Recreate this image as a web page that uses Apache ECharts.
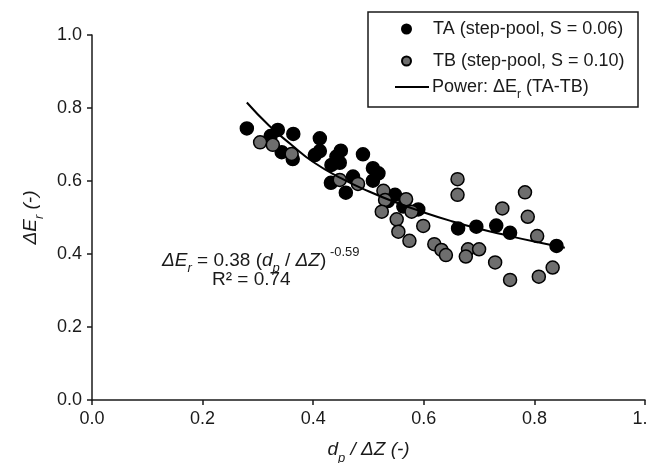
<!DOCTYPE html>
<html>
<head>
<meta charset="utf-8">
<script src="https://cdn.jsdelivr.net/npm/echarts@6/dist/echarts.min.js"></script>
<style>html,body{margin:0;padding:0;background:#fff}#c{width:647px;height:463px}</style>
</head>
<body>
<div id="c"></div>
<script>
// TA (step-pool, S = 0.06): [dp/ΔZ, ΔEr]
var taPoints = [
  [0.280,0.744],[0.336,0.740],[0.323,0.723],[0.364,0.729],[0.343,0.679],[0.363,0.660],
  [0.412,0.717],[0.403,0.671],[0.412,0.682],[0.450,0.683],[0.442,0.667],[0.490,0.673],
  [0.433,0.644],[0.448,0.650],[0.432,0.595],[0.459,0.568],[0.472,0.612],[0.508,0.635],
  [0.518,0.621],[0.508,0.601],[0.539,0.557],[0.548,0.562],[0.535,0.545],[0.563,0.530],
  [0.590,0.522],[0.662,0.470],[0.695,0.475],[0.731,0.478],[0.756,0.458],[0.840,0.422]
];
// TB (step-pool, S = 0.10)
var tbPoints = [
  [0.304,0.706],[0.327,0.699],[0.361,0.674],[0.448,0.603],[0.481,0.592],[0.527,0.573],
  [0.530,0.548],[0.568,0.550],[0.524,0.516],[0.578,0.516],[0.551,0.495],[0.554,0.461],
  [0.574,0.436],[0.599,0.477],[0.619,0.427],[0.632,0.411],[0.640,0.397],[0.661,0.605],
  [0.661,0.562],[0.680,0.413],[0.676,0.393],[0.700,0.413],[0.783,0.569],[0.742,0.525],
  [0.788,0.502],[0.805,0.449],[0.729,0.377],[0.756,0.329],[0.808,0.338],[0.833,0.363]
];
// Power trend line points
var powerLine = [
  [0.280,0.815],[0.320,0.752],[0.360,0.700],[0.400,0.652],[0.450,0.608],[0.500,0.572],
  [0.550,0.541],[0.600,0.514],[0.650,0.490],[0.700,0.469],[0.750,0.451],[0.800,0.434],[0.855,0.417]
];
var xTicks = [0, 0.2, 0.4, 0.6, 0.8, 1.0];
var yTicks = [0, 0.2, 0.4, 0.6, 0.8, 1.0];

var FONT = 'Liberation Sans, Arial, sans-serif';
var chart = echarts.init(document.getElementById('c'), null, {renderer: 'canvas'});
var axisCol = '#1a1a1a';
var txtCol = '#1a1a1a';
var option = {
  animation: false,
  backgroundColor: '#fff',
  textStyle: {fontFamily: FONT},
  grid: {left: 92, right: 2, top: 35, bottom: 63, containLabel: false, outerBoundsMode: 'none'},
  xAxis: {
    type: 'value', min: xTicks[0], max: xTicks[xTicks.length-1], interval: 0.2,
    splitLine: {show: false},
    axisLine: {lineStyle: {color: axisCol, width: 1.5}},
    axisTick: {show: true, inside: false, length: 5, lineStyle: {color: axisCol, width: 1.5}},
    axisLabel: {color: txtCol, fontSize: 18, fontFamily: FONT, margin: 10,
      formatter: function(v){ return v.toFixed(1); }},
    name: '{i|d}{s|p}{i| / ΔZ (-)}', nameLocation: 'middle', nameGap: 40,
    nameTextStyle: {color: txtCol, rich: {
      i: {fontSize: 19, fontStyle: 'italic', fontFamily: FONT, color: txtCol},
      s: {fontSize: 13, fontStyle: 'italic', fontFamily: FONT, color: txtCol, verticalAlign: 'bottom', padding: [0,0,-6,0]}
    }}
  },
  yAxis: {
    type: 'value', min: yTicks[0], max: yTicks[yTicks.length-1], interval: 0.2,
    splitLine: {show: false},
    axisLine: {show: true, lineStyle: {color: axisCol, width: 1.5}},
    axisTick: {show: true, inside: false, length: 5, lineStyle: {color: axisCol, width: 1.5}},
    axisLabel: {color: txtCol, fontSize: 18, fontFamily: FONT, margin: 10,
      formatter: function(v){ return v.toFixed(1); }},
    name: '{i|ΔE}{s|r}{i| (-)}', nameLocation: 'middle', nameGap: 46,
    nameTextStyle: {color: txtCol, rich: {
      i: {fontSize: 19, fontStyle: 'italic', fontFamily: FONT, color: txtCol},
      s: {fontSize: 13, fontStyle: 'italic', fontFamily: FONT, color: txtCol, verticalAlign: 'bottom', padding: [0,0,-6,0]}
    }}
  },
  legend: [
    {data: ['TA (step-pool, S = 0.06)'], left: 401, top: 20, padding: 0, itemWidth: 9, itemHeight: 9, icon: 'circle',
      textStyle: {fontSize: 18, color: txtCol, fontFamily: FONT, padding: [0,0,0,17]}},
    {data: ['TB (step-pool, S = 0.10)'], left: 401, top: 52, padding: 0, itemWidth: 9, itemHeight: 9, icon: 'circle',
      textStyle: {fontSize: 18, color: txtCol, fontFamily: FONT, padding: [0,0,0,17]}},
    {data: [{name: 'Power: ΔEr (TA-TB)', icon: 'rect'}], left: 395, top: 78, padding: 0, itemWidth: 34, itemHeight: 2,
      itemStyle: {color: '#000', borderWidth: 0},
      formatter: function(){ return 'Power: ΔE{s|r} (TA-TB)'; },
      textStyle: {fontSize: 18, color: txtCol, fontFamily: FONT, padding: [0,0,0,-2], rich: {
        s: {fontSize: 12, fontFamily: FONT, color: txtCol, verticalAlign: 'bottom', padding: [0,0,-5,0]}
      }}}
  ],
  graphic: [
    {type: 'rect', shape: {x: 368, y: 12, width: 270, height: 95}, style: {fill: 'none', stroke: '#1a1a1a', lineWidth: 1.5}, z: 100},
    {type: 'text', left: 162, top: 246, z: 100, style: {
      text: '{i|ΔE}{is|r}{n| = 0.38 (}{i|d}{is|p}{n| / }{i|ΔZ}{n|)}{sup| -0.59}',
      rich: {
        i: {fontSize: 19, fontStyle: 'italic', fontFamily: FONT, fill: txtCol},
        n: {fontSize: 19, fontFamily: FONT, fill: txtCol},
        is: {fontSize: 13, fontStyle: 'italic', fontFamily: FONT, fill: txtCol, verticalAlign: 'bottom', padding: [0,0,-5,0]},
        sup: {fontSize: 13, fontFamily: FONT, fill: txtCol, verticalAlign: 'top', padding: [-5,0,0,0]}
      }}},
    {type: 'text', left: 212, top: 270, z: 100, style: {text: 'R² = 0.74', font: '19px ' + FONT, fill: txtCol}}
  ],
  series: [
    {name: 'TA (step-pool, S = 0.06)', type: 'scatter', data: taPoints, symbol: 'circle', symbolSize: 13, z: 2,
      itemStyle: {color: '#000', borderColor: '#000', borderWidth: 1.5, opacity: 1}},
    {name: 'TB (step-pool, S = 0.10)', type: 'scatter', data: tbPoints, symbol: 'circle', symbolSize: 13, z: 3,
      itemStyle: {color: '#6e6e6e', borderColor: '#000', borderWidth: 1.5, opacity: 1}},
    {name: 'Power: ΔEr (TA-TB)', type: 'line', data: powerLine, smooth: true, symbol: 'none', showSymbol: false, z: 4,
      lineStyle: {color: '#000', width: 2}, itemStyle: {color: '#000'}}
  ]
};
chart.setOption(option);
</script>
</body>
</html>
